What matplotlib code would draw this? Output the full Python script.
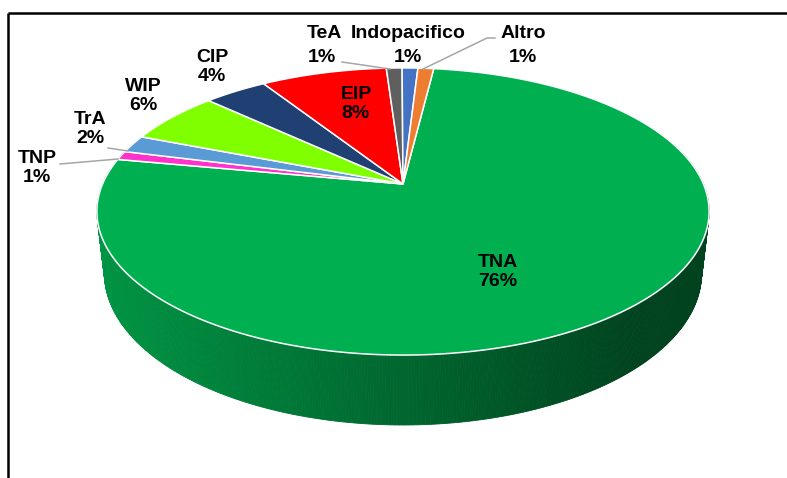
import numpy as np
import matplotlib.pyplot as plt
from matplotlib.patches import Polygon

# slice data, clockwise starting from TNA
labels = ['TNA', 'TNP', 'TrA', 'WIP', 'CIP', 'EIP', 'TeA', 'Indopacifico', 'Altro']
values = [76, 1, 2, 6, 4, 8, 1, 1, 1]
colors = ['#00B050', '#FF33CC', '#5B9BD5', '#80FF00', '#203F73',
          '#FF0000', '#5F5F5F', '#4472C4', '#ED7D31']
label_xy = [(498, 272), (37, 168), (90, 129), (143, 96), (212, 67),
            (356, 104), (323, 45), (408, 45), (523, 45)]

# 3D pie geometry (perspective camera), screen pixels
cx, cy = 403, 184
alpha = np.radians(28)
dist = 4.61
fx, fy = 1385, 1358
thick = 0.24
start = 7.0


def project(theta, y):
    x, z = np.sin(theta), np.cos(theta)
    depth = dist - y * np.sin(alpha) + z * np.cos(alpha)
    sx = fx * x / depth
    sy = fy * (y * np.cos(alpha) + z * np.sin(alpha)) / depth
    return cx + sx, cy - sy


fig = plt.figure(figsize=(7.87, 4.78), dpi=100)
ax = fig.add_axes([0, 0, 1, 1])
ax.set_xlim(0, 787)
ax.set_ylim(478, 0)
ax.axis('off')

fr = np.array(values) / sum(values)
edges = np.radians(start + 360 * np.concatenate([[0], np.cumsum(fr)]))

# side wall, drawn in thin strips with a left-to-right shading
for i, col in enumerate(colors):
    rgb = np.array(plt.matplotlib.colors.to_rgb(col))
    th = np.linspace(edges[i], edges[i + 1], max(4, int(values[i] * 8)))
    for a, b in zip(th[:-1], th[1:]):
        if np.cos((a + b) / 2) > 0.3:
            continue
        p1 = project(a, 0); p2 = project(b, 0)
        p3 = project(b, -thick); p4 = project(a, -thick)
        xm = (p1[0] + p2[0]) / 2
        f = np.interp(xm, [98, 640, 709], [0.84, 0.38, 0.38])
        c = np.clip(rgb * f, 0, 1)
        ax.add_patch(Polygon([p1, p2, p3, p4], closed=True, facecolor=c,
                             edgecolor=c, linewidth=0.6))

# top face
for i, col in enumerate(colors):
    th = np.linspace(edges[i], edges[i + 1], max(6, int(values[i] * 6)))
    pts = [(cx, cy)] + [project(t, 0) for t in th]
    ax.add_patch(Polygon(pts, closed=True, facecolor=col, edgecolor='white',
                         linewidth=1.1, joinstyle='miter'))

font = dict(fontsize=14, fontweight='bold', family='Liberation Sans',
            ha='center', va='center')

# labels
for lab, v, (lx, ly) in zip(labels, values, label_xy):
    if lab in ('TeA', 'Indopacifico', 'Altro'):
        continue
    ax.text(lx, ly, f'{lab}\n{v}%', linespacing=1.2, **font)

ax.text(324, 33, 'TeA', **font)
ax.text(322, 57, f'{values[6]}%', **font)
ax.text(408, 33, 'Indopacifico', **font)
ax.text(408, 57, f'{values[7]}%', **font)
ax.text(523, 33, 'Altro', **font)
ax.text(523, 57, f'{values[8]}%', **font)

# leader lines
lc = '#A6A6A6'
ax.plot([342, 390], [62, 69], color=lc, lw=1.1)
ax.plot([495, 487, 423], [38, 38, 69], color=lc, lw=1.1)
ax.plot([108, 128], [148, 151], color=lc, lw=1.1)
ax.plot([60, 118], [164, 159], color=lc, lw=1.1)

# frame lines
ax.plot([7.5, 787], [12.5, 12.5], color='black', lw=1.8, solid_capstyle='butt')
ax.plot([7.5, 7.5], [12.5, 478], color='black', lw=1.8, solid_capstyle='butt')

plt.savefig('out.png', dpi=100)
